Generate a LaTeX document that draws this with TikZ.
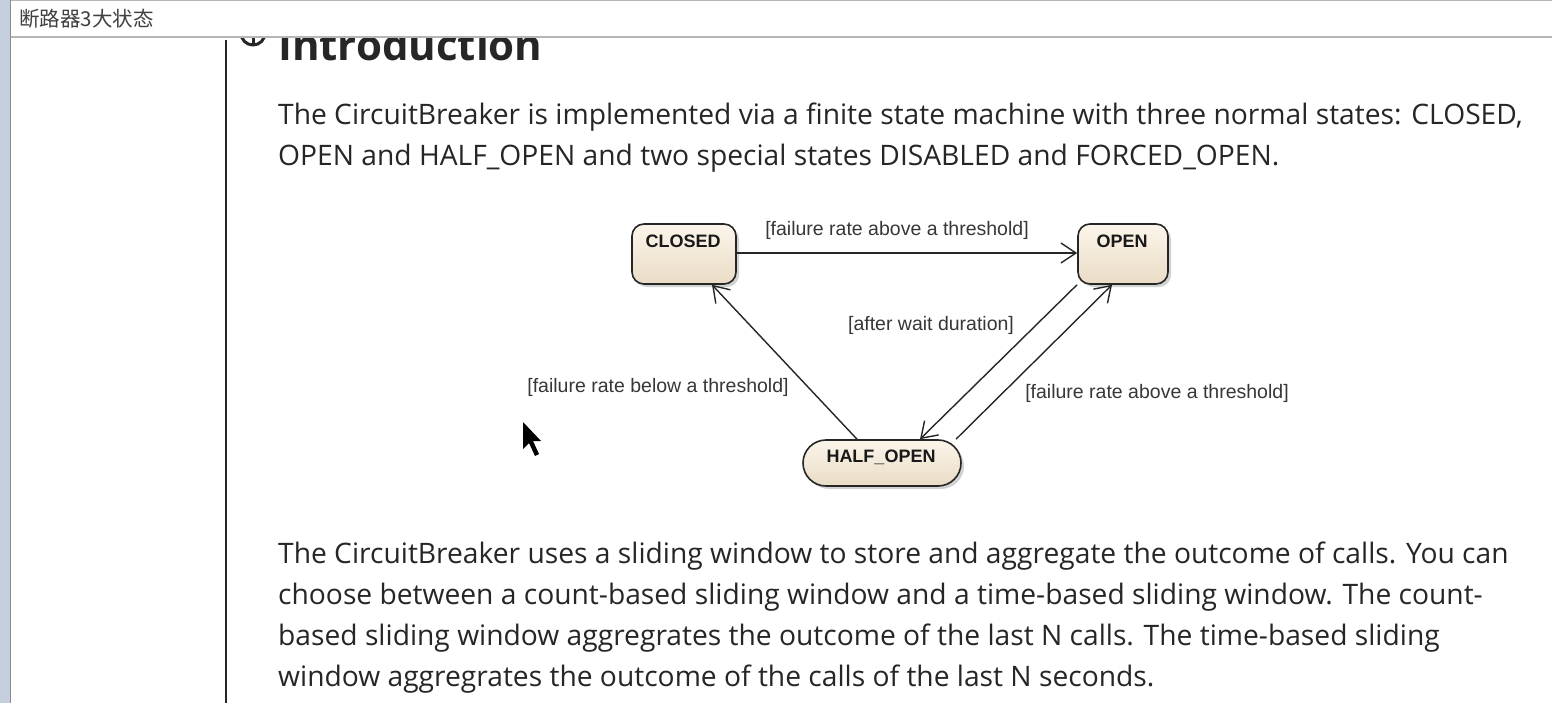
\documentclass[tikz,border=0pt]{standalone}
\usepackage{fontspec}
\setmainfont{Open Sans}
\newfontfamily\cjk{Noto Sans CJK SC}
\newfontfamily\diag{Liberation Sans}
\usetikzlibrary{arrows.meta,shadows,positioning}
\definecolor{bodytxt}{RGB}{38,38,38}
\definecolor{labtxt}{RGB}{55,55,55}
\definecolor{stripe}{RGB}{196,206,220}
\definecolor{barline}{RGB}{180,182,186}
\definecolor{creamtop}{RGB}{251,245,234}
\definecolor{creambot}{RGB}{234,220,198}
\tikzset{
  body/.style={anchor=base west, inner sep=0pt, text=bodytxt, font=\fontsize{28.2}{32}\selectfont},
  state/.style={draw=black!85, line width=1.6pt, rounded corners=12pt, top color=creamtop, bottom color=creambot,
     drop shadow={shadow xshift=3pt, shadow yshift=-3pt, opacity=0.35, fill=black!50}},
  statetxt/.style={inner sep=0pt, font=\diag\bfseries\fontsize{18}{20}\selectfont, text=black!90},
  trans/.style={draw=black!85, line width=1.4pt, -{Straight Barb[length=15pt,width=20pt,line width=1.4pt]}},
  tlabel/.style={inner sep=0pt, font=\diag\fontsize{19.5}{22}\selectfont, text=labtxt},
}
\begin{document}
\begin{tikzpicture}[x=1pt,y=-1pt]
\useasboundingbox (0,0) rectangle (1552,703);
\fill[white] (0,0) rectangle (1552,703);
% heading (partially hidden under title bar)
\node[anchor=base west, inner sep=0pt, text=black!85, font=\bfseries\fontsize{42}{44}\selectfont] (heading) at (278,61) {Introduction};
\draw[black!85, line width=3pt] (241,33) arc[start angle=180, end angle=0, radius=12];
\draw[black!85, line width=3pt] (253,30) -- (253,46);
% title bar
\fill[white] (11,0) rectangle (1552,37);
\draw[barline, line width=1.5pt] (11,0.75) -- (1552,0.75);
\draw[barline, line width=2pt] (11,37) -- (1552,37);
\fill[stripe] (0,0) rectangle (10,703);
\draw[black!45, line width=1pt] (10.5,0) -- (10.5,703);
\node[anchor=west, inner sep=0pt, font=\cjk\fontsize{20.5}{22}\selectfont, text=black!75] (title) at (19,19) {断路器3大状态};
% vertical rule
\draw[black!85, line width=1.5pt] (226,40) -- (226,703);
% paragraph 1
\node[body] (p1a) at (278,125) {The CircuitBreaker is implemented via a finite state machine with three normal states: CLOSED,};
\node[body] (p1b) at (278,166) {OPEN and HALF\_OPEN and two special states DISABLED and FORCED\_OPEN.};
% paragraph 2
\node[body] (p2a) at (278,563) {The CircuitBreaker uses a sliding window to store and aggregate the outcome of calls. You can};
\node[body] (p2b) at (278,604) {choose between a count-based sliding window and a time-based sliding window. The count-};
\node[body] (p2c) at (278,645) {based sliding window aggregrates the outcome of the last N calls. The time-based sliding};
\node[body] (p2d) at (278,686) {window aggregrates the outcome of the calls of the last N seconds.};
% states
\node[state, minimum width=104pt, minimum height=60pt] (closed) at (684,254) {};
\node[statetxt] (closedtxt) at (683,241) {CLOSED};
\node[state, minimum width=90pt, minimum height=60pt] (open) at (1123,254) {};
\node[statetxt] (opentxt) at (1122,241) {OPEN};
\node[state, rounded corners=23pt, minimum width=158pt, minimum height=46pt] (half) at (882,463) {};
\node[statetxt] (halftxt) at (881,457) {HALF\_OPEN};
% transitions
\draw[trans] (closed.east |- 0,253) -- (open.west |- 0,253);
\draw[trans] ([xshift=-25pt]half.north) -- ([xshift=28pt]closed.south);
\draw[trans] ([xshift=-46pt]open.south) -- ([xshift=38pt]half.north);
\draw[trans] ([xshift=74pt]half.north) -- ([xshift=-11pt]open.south);
% labels
\node[tlabel] (l1) at (897,230) {[failure rate above a threshold]};
\node[tlabel] (l2) at (658,387) {[failure rate below a threshold]};
\node[tlabel] (l3) at (931,325) {[after wait duration]};
\node[tlabel] (l4) at (1157,393) {[failure rate above a threshold]};
% mouse cursor
\fill[black] (523,422) -- (523,449) -- (529,443) -- (535,456) -- (539,454) -- (533,441) -- (541,441) -- cycle;
\end{tikzpicture}
\end{document}
